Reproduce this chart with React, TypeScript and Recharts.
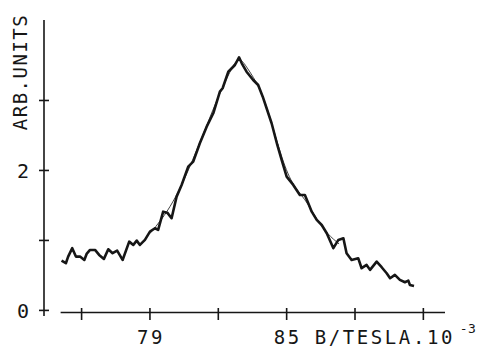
import React from "react";
import { LineChart, Line, XAxis, YAxis, ReferenceLine, Label } from "recharts";

// Measured spectrum (field in units of 10^-3 T, intensity in arb. units)
const fieldB: number[] = [
  75.12, 75.31, 75.41, 75.59, 75.75, 75.93, 76.12, 76.22, 76.37, 76.59,
  76.77, 76.98, 77.17, 77.36, 77.56, 77.8, 78.09, 78.27, 78.42, 78.56,
  78.78, 79.0, 79.22, 79.36, 79.58, 79.76, 79.95, 80.17, 80.39, 80.68,
  80.9, 81.19, 81.49, 81.78, 82.07, 82.19, 82.44, 82.59, 82.73, 82.91,
  83.03, 83.24, 83.53, 83.75, 83.95, 84.12, 84.34, 84.59, 84.78, 85.0,
  85.29, 85.58, 85.8, 85.95, 86.1, 86.32, 86.54, 86.76, 87.05, 87.27,
  87.49, 87.63, 87.85, 88.14, 88.29, 88.51, 88.66, 88.95, 89.17, 89.39,
  89.54, 89.75, 89.97, 90.19, 90.34, 90.41, 90.59,
];
const signal: number[] = [
  0.711, 0.674, 0.769, 0.889, 0.769, 0.769, 0.721, 0.807, 0.864, 0.864,
  0.793, 0.736, 0.874, 0.817, 0.854, 0.721, 0.983, 0.936, 0.997, 0.936,
  1.007, 1.126, 1.174, 1.15, 1.411, 1.397, 1.317, 1.626, 1.793, 2.054,
  2.126, 2.389, 2.626, 2.817, 3.126, 3.174, 3.411, 3.46, 3.507, 3.617,
  3.531, 3.411, 3.293, 3.221, 3.054, 2.889, 2.674, 2.364, 2.15, 1.911,
  1.793, 1.65, 1.65, 1.531, 1.411, 1.293, 1.221, 1.103, 0.889, 1.007,
  1.031, 0.817, 0.721, 0.746, 0.603, 0.65, 0.579, 0.697, 0.617, 0.531,
  0.46, 0.507, 0.436, 0.403, 0.426, 0.364, 0.35,
];

// Fitted curve (thin line)
const fitB: number[] = [79.0, 79.5, 80.0, 80.5, 81.0, 81.5, 82.0, 82.5, 82.9, 83.3, 83.8, 84.3, 84.8, 85.3, 85.8, 86.3, 86.8, 87.3];
const fitValues: number[] = [1.1, 1.3, 1.55, 1.87, 2.25, 2.65, 3.05, 3.4, 3.58, 3.45, 3.17, 2.72, 2.18, 1.8, 1.58, 1.32, 1.1, 0.95];

const xTicks: number[] = [76, 79, 82, 85, 88, 91];
const xTickLabels: Record<number, string> = { 79: "79", 85: "85" };
const yTicks: number[] = [0, 1, 2, 3];
const yTickLabels: Record<number, string> = { 0: "0", 2: "2" };

const xTitle = "B/TESLA.10";
const xTitleExp = "-3";
const xTitleAfterTick = 85;
const yTitle = "ARB.UNITS";

const xDomain: [number, number] = [74.35, 91.95];
const yDomain: [number, number] = [-0.08, 4.15];
const xAxisStart = 75.08;
const xAxisEnd = 91.95;
const xAxisLevel = -0.03;

const measured = fieldB.map((b, i) => ({ b, v: signal[i] }));
const fitted = fitB.map((b, i) => ({ b, v: fitValues[i] }));

const INK = "#161616";
const FONT = "'DejaVu Sans Mono', 'Liberation Mono', monospace";

const XTick = (props: any) => {
  const { x, y, payload } = props;
  const v = payload.value as number;
  const lbl = xTickLabels[v];
  return (
    <g>
      <line x1={x} x2={x} y1={y - 8} y2={y + 4} stroke={INK} strokeWidth={1.6} />
      {lbl && (
        <text x={x + 1} y={y + 28} textAnchor="middle" fontFamily={FONT} fontSize={19} letterSpacing={2.5} fill={INK}>
          {lbl}
        </text>
      )}
      {v === xTitleAfterTick && (
        <g>
          <text x={x + 28} y={y + 28} textAnchor="start" fontFamily={FONT} fontSize={19} letterSpacing={2.6} fill={INK}>
            {xTitle}
          </text>
          <text x={x + 173} y={y + 17} textAnchor="start" fontFamily={FONT} fontSize={13} letterSpacing={0.5} fill={INK}>
            {xTitleExp}
          </text>
        </g>
      )}
    </g>
  );
};

const YTick = (props: any) => {
  const { x, y, payload } = props;
  const v = payload.value as number;
  const lbl = yTickLabels[v];
  return (
    <g>
      <line x1={x - 5} x2={x + 5} y1={y} y2={y} stroke={INK} strokeWidth={1.6} />
      {lbl && (
        <text x={x - 21} y={y + 8} textAnchor="middle" fontFamily={FONT} fontSize={20} fill={INK}>
          {lbl}
        </text>
      )}
    </g>
  );
};

const YTitle = (props: any) => {
  const vb = props.viewBox || { x: 0, y: 0 };
  const cx = vb.x + 27;
  const cy = vb.y + 52;
  return (
    <text
      x={cx}
      y={cy}
      transform={`rotate(-90, ${cx}, ${cy})`}
      textAnchor="middle"
      fontFamily={FONT}
      fontSize={19}
      letterSpacing={1.5}
      fill={INK}
    >
      {yTitle}
    </text>
  );
};

export default function App() {
  return (
    <div style={{ position: "absolute", left: 0, top: 0, width: 478, height: 349, background: "#fff" }}>
      <LineChart width={478} height={349} margin={{ top: 20, right: 33, bottom: 0, left: 0 }}>
        <XAxis
          type="number"
          dataKey="b"
          domain={xDomain}
          allowDataOverflow
          ticks={xTicks}
          interval={0}
          axisLine={false}
          tickLine={false}
          tickSize={0}
          tickMargin={0}
          height={33}
          tick={<XTick />}
        />
        <YAxis
          type="number"
          dataKey="v"
          domain={yDomain}
          allowDataOverflow
          ticks={yTicks}
          interval={0}
          width={44}
          axisLine={{ stroke: INK, strokeWidth: 1.6 }}
          tickLine={false}
          tickSize={0}
          tickMargin={0}
          tick={<YTick />}
        >
          <Label content={<YTitle />} />
        </YAxis>
        <ReferenceLine
          segment={[
            { x: xAxisStart, y: xAxisLevel },
            { x: xAxisEnd, y: xAxisLevel },
          ]}
          stroke={INK}
          strokeWidth={1.6}
          ifOverflow="visible"
        />
        <Line
          data={fitted}
          dataKey="v"
          type="natural"
          stroke="#444"
          strokeWidth={1}
          dot={false}
          isAnimationActive={false}
        />
        <Line
          data={measured}
          dataKey="v"
          type="linear"
          stroke={INK}
          strokeWidth={2.6}
          strokeLinejoin="round"
          dot={false}
          isAnimationActive={false}
        />
      </LineChart>
    </div>
  );
}
